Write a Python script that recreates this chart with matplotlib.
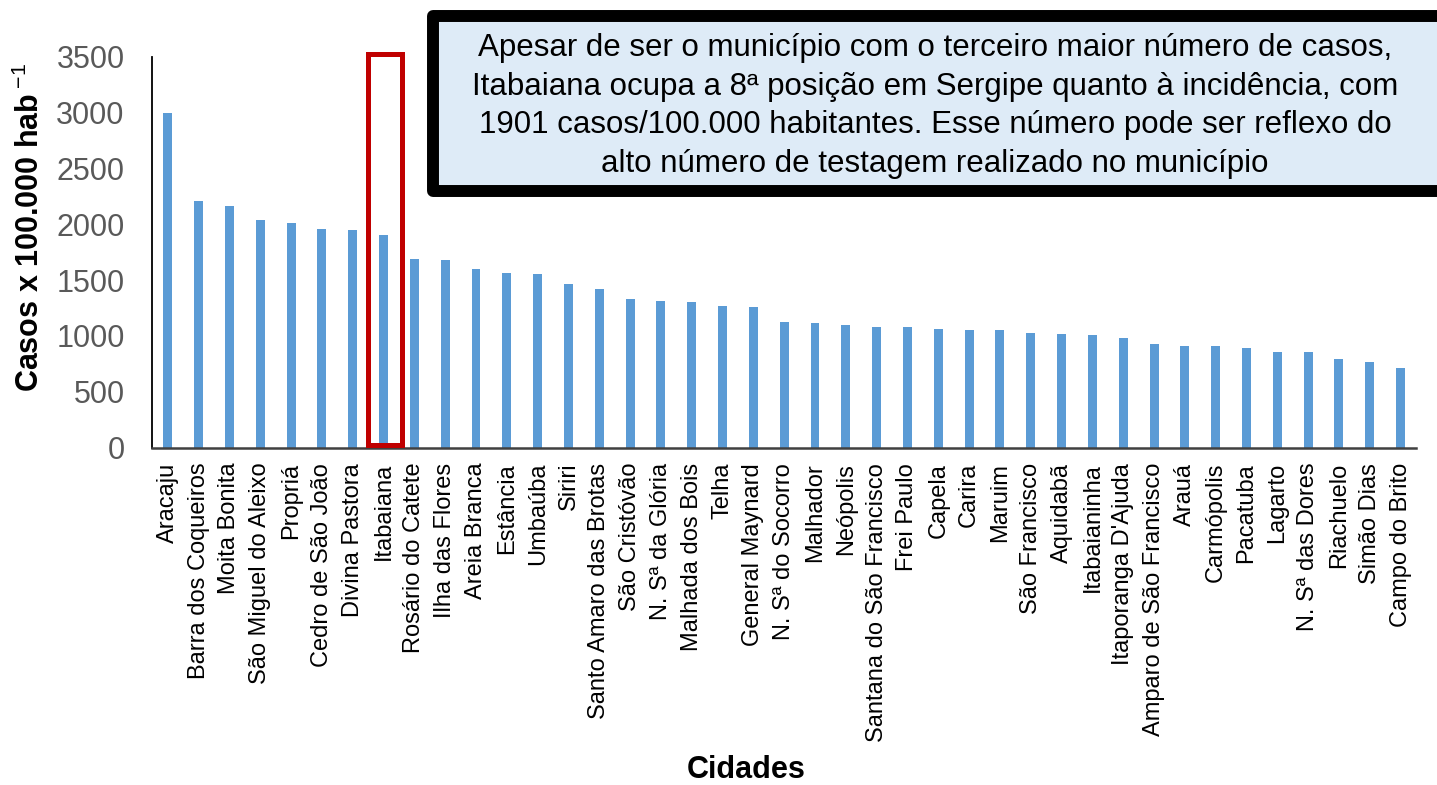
import numpy as np
import matplotlib
matplotlib.use('Agg')
import matplotlib.pyplot as plt
from matplotlib.patches import Rectangle

plt.rcParams['font.family'] = ['Liberation Sans', 'DejaVu Sans']
plt.rcParams['mathtext.fontset'] = 'custom'
plt.rcParams['mathtext.rm'] = 'Liberation Sans'
plt.rcParams['mathtext.bf'] = 'Liberation Sans:bold'

cidades = ['Aracaju', 'Barra dos Coqueiros', 'Moita Bonita', 'São Miguel do Aleixo',
           'Propriá', 'Cedro de São João', 'Divina Pastora', 'Itabaiana',
           'Rosário do Catete', 'Ilha das Flores', 'Areia Branca', 'Estância',
           'Umbaúba', 'Siriri', 'Santo Amaro das Brotas', 'São Cristóvão',
           'N. Sª da Glória', 'Malhada dos Bois', 'Telha', 'General Maynard',
           'N. Sª do Socorro', 'Malhador', 'Neópolis', 'Santana do São Francisco',
           'Frei Paulo', 'Capela', 'Carira', 'Maruim', 'São Francisco', 'Aquidabã',
           'Itabaianinha', "Itaporanga D'Ajuda", 'Amparo de São Francisco', 'Arauá',
           'Carmópolis', 'Pacatuba', 'Lagarto', 'N. Sª das Dores', 'Riachuelo',
           'Simão Dias', 'Campo do Brito']
casos = [3000, 2209, 2167, 2039, 2009, 1955, 1949, 1901,
         1690, 1680, 1604, 1568, 1556, 1467, 1422, 1335,
         1314, 1305, 1270, 1258, 1124, 1117, 1100, 1082,
         1080, 1060, 1051, 1051, 1024, 1018, 1012, 979,
         932, 910, 907, 890, 857, 854, 797, 762, 711]
yticks = [0, 500, 1000, 1500, 2000, 2500, 3000, 3500]
destaque = 'Itabaiana'

nota = ('Apesar de ser o município com o terceiro maior número de casos,\n'
        'Itabaiana ocupa a 8ª posição em Sergipe quanto à incidência, com\n'
        '1901 casos/100.000 habitantes. Esse número pode ser reflexo do\n'
        'alto número de testagem realizado no município')

W, H = 1437, 785
fig = plt.figure(figsize=(W / 100, H / 100), dpi=100)
ax = fig.add_axes([152.4 / W, 1 - 447.5 / H, (1416 - 152.4) / W, (447.5 - 57) / H])

x = np.arange(len(cidades))
ax.bar(x, casos, width=0.29, color='#5B9BD5')
ax.set_xlim(-0.5, len(cidades) - 0.5)
ax.set_ylim(0, 3500)
ax.set_yticks(yticks)
ax.set_xticks(x)
ax.set_xticklabels(cidades, rotation=90, fontsize=17, color='black')
ax.tick_params(axis='y', length=0, pad=20, labelsize=22, labelcolor='#595959')
ax.tick_params(axis='x', length=0, pad=11)
for s in ['top', 'right']:
    ax.spines[s].set_visible(False)
ax.spines['left'].set_color('black')
ax.spines['left'].set_linewidth(1.3)
ax.spines['bottom'].set_color('#404040')
ax.spines['bottom'].set_linewidth(1.8)

# red highlight box around Itabaiana
i = cidades.index(destaque)
ax.add_patch(Rectangle((i - 0.51, 25), 1.1, 3505, fill=False,
                       edgecolor='#C00000', linewidth=3.6, clip_on=False, zorder=3))

fig.text(30 / W, 1 - 228 / H, r'Casos x 100.000 hab$\,^{-1}$', rotation=90,
         ha='center', va='center', fontsize=22, fontweight='bold')
fig.text(746 / W, 1 - 770 / H, 'Cidades', ha='center', va='center',
         fontsize=22, fontweight='bold')

# annotation box
fig.patches.append(Rectangle((432.7 / W, 1 - 190.5 / H), 1012 / W, 174.5 / H,
                             transform=fig.transFigure, facecolor='#DEEBF7',
                             edgecolor='black', linewidth=8.6, joinstyle='round'))
fig.text(935 / W, 1 - 106 / H, nota, ha='center', va='center', fontsize=22.5,
         linespacing=1.37)

fig.savefig('out.png', dpi=100)
